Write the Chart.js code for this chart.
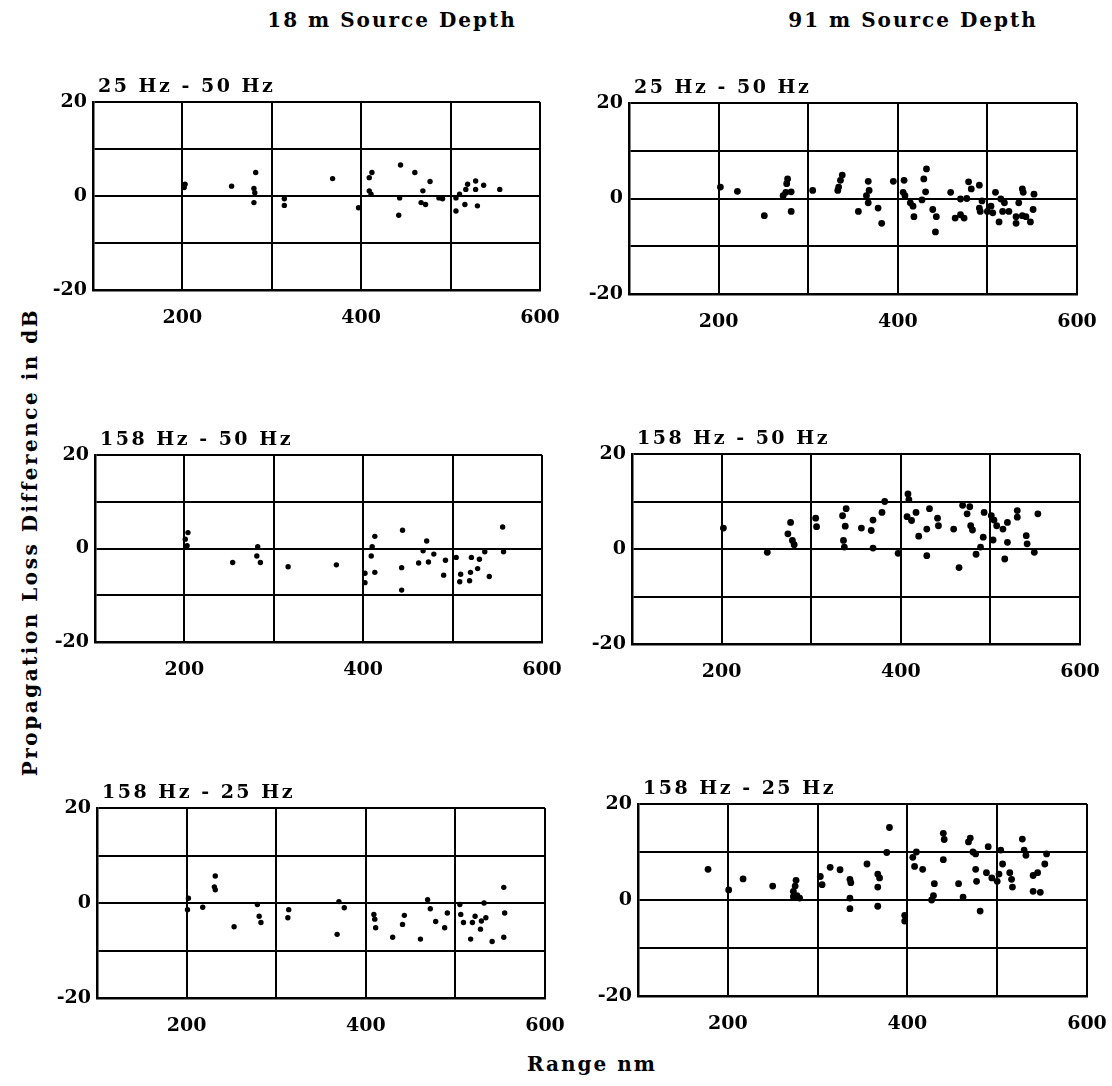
<!DOCTYPE html>
<html>
<head>
<meta charset="utf-8">
<script src="https://cdn.jsdelivr.net/npm/chart.js@4.4.0/dist/chart.umd.min.js"></script>
<style>
  body { margin: 0; background: #fff; }
  #page { position: relative; width: 1112px; height: 1086px; background: #fff; overflow: hidden; }
  canvas { position: absolute; }
  .txt { position: absolute; font-family: "DejaVu Serif", serif; font-weight: bold; color: #000; white-space: nowrap; }
  .col { font-size: 20px; letter-spacing: 2px; top: 8px; transform: translateX(-50%); }
  #ylab { font-size: 20px; letter-spacing: 2.5px; left: 30px; top: 542px; transform: translate(-50%, -50%) rotate(-90deg); }
  #xlab { font-size: 20px; letter-spacing: 2px; left: 592px; top: 1052px; transform: translateX(-50%); }
</style>
</head>
<body>
<div id="page">
  <div class="txt col" style="left:392px">18 m Source Depth</div>
  <div class="txt col" style="left:913px">91 m Source Depth</div>
  <div class="txt" id="ylab">Propagation Loss Difference in dB</div>
  <div class="txt" id="xlab">Range nm</div>
  <canvas id="c1"></canvas>
  <canvas id="c2"></canvas>
  <canvas id="c3"></canvas>
  <canvas id="c4"></canvas>
  <canvas id="c5"></canvas>
  <canvas id="c6"></canvas>
</div>
<script>
// axis labels that are shown
const xTickLabels = [200, 400, 600];
const yTickLabels = [20, 0, -20];

// panel titles
const titles = ["25 Hz - 50 Hz", "25 Hz - 50 Hz", "158 Hz - 50 Hz", "158 Hz - 50 Hz", "158 Hz - 25 Hz", "158 Hz - 25 Hz"];

// [range nm, loss difference dB]
const d18_25_50 = [[203,2.5],[202,1.8],[255,2.1],[282,5],[280,1.6],[281,0.7],[280,-1.4],[314,-0.6],[314,-2],[368,3.7],[397,-2.5],[412,5],[409,3.9],[409,1.1],[411,0.4],[444,6.6],[443,-0.4],[442,-4.1],[460,5],[477,3.1],[469,1.1],[467,-1.4],[472,-1.8],[487,-0.4],[491,-0.6],[506,-0.4],[506,-3.2],[516,-1.8],[530,-2.1],[517,1.4],[519,2.5],[528,1.4],[528,3.2],[537,2.3],[555,1.4],[510,0.4]];

const d91_25_50 = [[202,2.4],[221,1.5],[251,-3.6],[277,4.1],[276,3.1],[275,1.3],[281,1.4],[272,0.6],[281,-2.7],[305,1.7],[338,4.9],[336,3.8],[334,2.4],[333,1.7],[356,-2.7],[367,3.6],[368,1.7],[367,-0.9],[365,0.6],[378,-2],[382,-5.2],[395,3.6],[407,3.8],[406,1.3],[408,0.6],[432,6.2],[429,4.1],[431,1.4],[427,-0.3],[417,-1.6],[414,-0.9],[418,-3.8],[439,-2.3],[443,-3.8],[442,-7],[459,1.3],[470,-0.1],[464,-4.1],[474,-4.1],[470,-3.4],[479,3.5],[482,2],[477,0],[491,2.8],[494,-0.5],[491,-2],[492,-2.7],[504,-1.6],[506,-3],[515,-0.1],[519,-0.9],[517,-2.7],[513,-4.9],[524,-2.7],[532,-3.8],[532,-5.2],[535,-0.9],[539,2],[540,1.3],[539,-3.6],[543,-3.8],[548,-4.9],[551,-2.3],[552,0.9],[509,1.3],[500,-2.7]];

const d18_158_50 = [[204,3.4],[201,2],[203,0.6],[254,-3],[282,0.4],[281,-1.6],[285,-3],[316,-3.9],[370,-3.5],[402,-5.3],[402,-7.3],[413,2.6],[410,0.4],[409,-1.6],[413,-5.1],[444,3.9],[443,-4.1],[443,-8.9],[467,-0.5],[471,1.6],[462,-3.1],[473,-2.9],[479,-1.2],[492,-2.5],[490,-5.7],[504,-1.9],[509,-5.5],[508,-7.1],[519,-6.9],[520,-5.1],[521,-1.9],[530,-2.3],[528,-4.3],[536,-0.7],[541,-6],[556,4.6],[557,-0.7]];

const d91_158_50 = [[202,4.4],[251,-0.7],[277,5.6],[274,3.2],[279,1.8],[281,0.9],[305,6.5],[306,4.7],[339,8.5],[335,7],[338,4.8],[336,1.8],[337,0.4],[356,4.4],[367,3.9],[369,6.1],[369,0.2],[379,7.7],[382,10],[397,-0.9],[408,11.6],[409,10.4],[407,6.8],[412,6],[417,7.7],[420,2.7],[429,-1.4],[432,8.5],[429,4.2],[441,6.5],[442,4.9],[459,4.2],[465,-3.9],[469,9.2],[477,8.9],[474,7.4],[478,4.9],[480,4],[489,0.4],[484,-1.1],[492,2.5],[493,7.7],[504,6.1],[507,4.9],[501,7],[503,1.9],[516,-2.1],[514,4.2],[519,5.6],[519,1.4],[530,8.1],[530,6.7],[540,2.8],[541,1.1],[549,-0.7],[553,7.4]];

const d18_158_25 = [[202,1],[201,-1.4],[218,-0.9],[232,5.7],[231,3.4],[232,2.8],[253,-5],[279,-0.3],[281,-2.8],[283,-4.1],[314,-1.4],[313,-3.1],[370,0.3],[376,-1],[368,-6.6],[409,-2.4],[411,-5.2],[410,-3.4],[430,-7.2],[443,-2.6],[441,-4.5],[461,-7.6],[469,0.7],[472,-1.2],[478,-3.9],[488,-5.2],[491,-2.1],[505,-0.3],[506,-2.4],[509,-4.1],[517,-7.6],[519,-4.1],[522,-2.8],[529,-3.8],[528,-5.5],[532,0],[534,-3.1],[541,-8.1],[554,3.3],[555,-2.1],[554,-7.2]];

const d91_158_25 = [[178,6.4],[217,4.4],[201,2.1],[250,2.9],[276,4.1],[275,2.9],[273,1.8],[277,0.9],[273,0.7],[280,0.4],[303,4.9],[305,3.2],[314,6.8],[325,6.3],[336,4.3],[337,3.6],[336,0.4],[336,-1.8],[355,7.5],[367,5.4],[369,4.6],[367,2.7],[367,-1.3],[380,15.1],[377,9.9],[397,-3.2],[397,-4.4],[406,8.9],[408,7],[410,10],[417,6.4],[427,0],[429,0.9],[430,3.4],[440,13.9],[441,12.6],[440,8.4],[457,3.4],[462,0.6],[470,12.9],[468,12.1],[473,10],[476,9.6],[476,6.4],[481,-2.3],[477,3.9],[490,11.1],[488,5.7],[494,4.6],[500,3.9],[502,5.4],[504,10.4],[506,7.5],[514,5.7],[516,4.3],[517,2.7],[528,12.7],[532,9.3],[530,10.4],[540,5.1],[545,5.7],[540,1.8],[548,1.6],[553,7.5],[555,9.6]];

Chart.defaults.font.family = '"DejaVu Serif", serif';
Chart.defaults.font.weight = 'bold';
Chart.defaults.color = '#000';

// padding round the plot box inside each canvas
// (right side must cover half the "600" label plus the tick padding)
const PL = 55, PT = 35, PR = 45, PB = 45;

// draws the small title above the plot box
const panelTitle = {
  id: 'panelTitle',
  afterDraw(chart, args, opts) {
    const ctx = chart.ctx, a = chart.chartArea;
    ctx.save();
    ctx.font = 'bold 19px "DejaVu Serif"';
    ctx.letterSpacing = '2.5px';
    ctx.fillStyle = '#000';
    ctx.textBaseline = 'alphabetic';
    ctx.fillText(opts.text, a.left + opts.dx, a.top - 10);
    ctx.restore();
  }
};

function panel(id, pts, title, box, r) {
  // box = plot area [left, top, right, bottom] in page pixels
  const cv = document.getElementById(id);
  const w = box[2] - box[0] + PL + PR, h = box[3] - box[1] + PT + PB;
  cv.width = w; cv.height = h;
  cv.style.left = (box[0] - PL) + 'px';
  cv.style.top = (box[1] - PT) + 'px';
  new Chart(cv, {
    type: 'scatter',
    data: {
      datasets: [{
        data: pts.map(p => ({ x: p[0], y: p[1] })),
        backgroundColor: '#000',
        borderColor: '#000',
        pointRadius: r,
        pointBorderWidth: 0
      }]
    },
    plugins: [panelTitle],
    options: {
      responsive: false,
      animation: false,
      devicePixelRatio: 1,
      layout: { padding: { left: 0, top: PT, right: PR, bottom: 0 } },
      plugins: {
        legend: { display: false },
        tooltip: { enabled: false },
        panelTitle: { text: title, dx: 5 }
      },
      scales: {
        x: {
          type: 'linear', min: 100, max: 600,
          afterFit(s) { s.height = PB; },
          ticks: {
            stepSize: 100, autoSkip: false, maxRotation: 0, padding: 17,
            font: { size: 19, weight: 'bold' },
            callback: v => xTickLabels.includes(v) ? String(v) : ''
          },
          grid: { color: '#000', lineWidth: 2, drawTicks: false },
          border: { color: '#000', width: 2.5 }
        },
        y: {
          min: -20, max: 20,
          afterFit(s) { s.width = PL; },
          ticks: {
            stepSize: 10, autoSkip: false, padding: 6,
            font: { size: 19, weight: 'bold' },
            callback: v => yTickLabels.includes(v) ? String(v) : ''
          },
          grid: { color: '#000', lineWidth: 2, drawTicks: false },
          border: { color: '#000', width: 2.5 }
        }
      }
    }
  });
}

panel('c1', d18_25_50,  titles[0], [93, 102, 540, 290], 2.7);
panel('c2', d91_25_50,  titles[1], [629, 103, 1077, 294], 3.4);
panel('c3', d18_158_50, titles[2], [95, 455, 542, 642], 2.7);
panel('c4', d91_158_50, titles[3], [632, 454, 1080, 644], 3.4);
panel('c5', d18_158_25, titles[4], [97, 808, 545, 998], 2.7);
panel('c6', d91_158_25, titles[5], [638, 804, 1087, 996], 3.4);
</script>
</body>
</html>
